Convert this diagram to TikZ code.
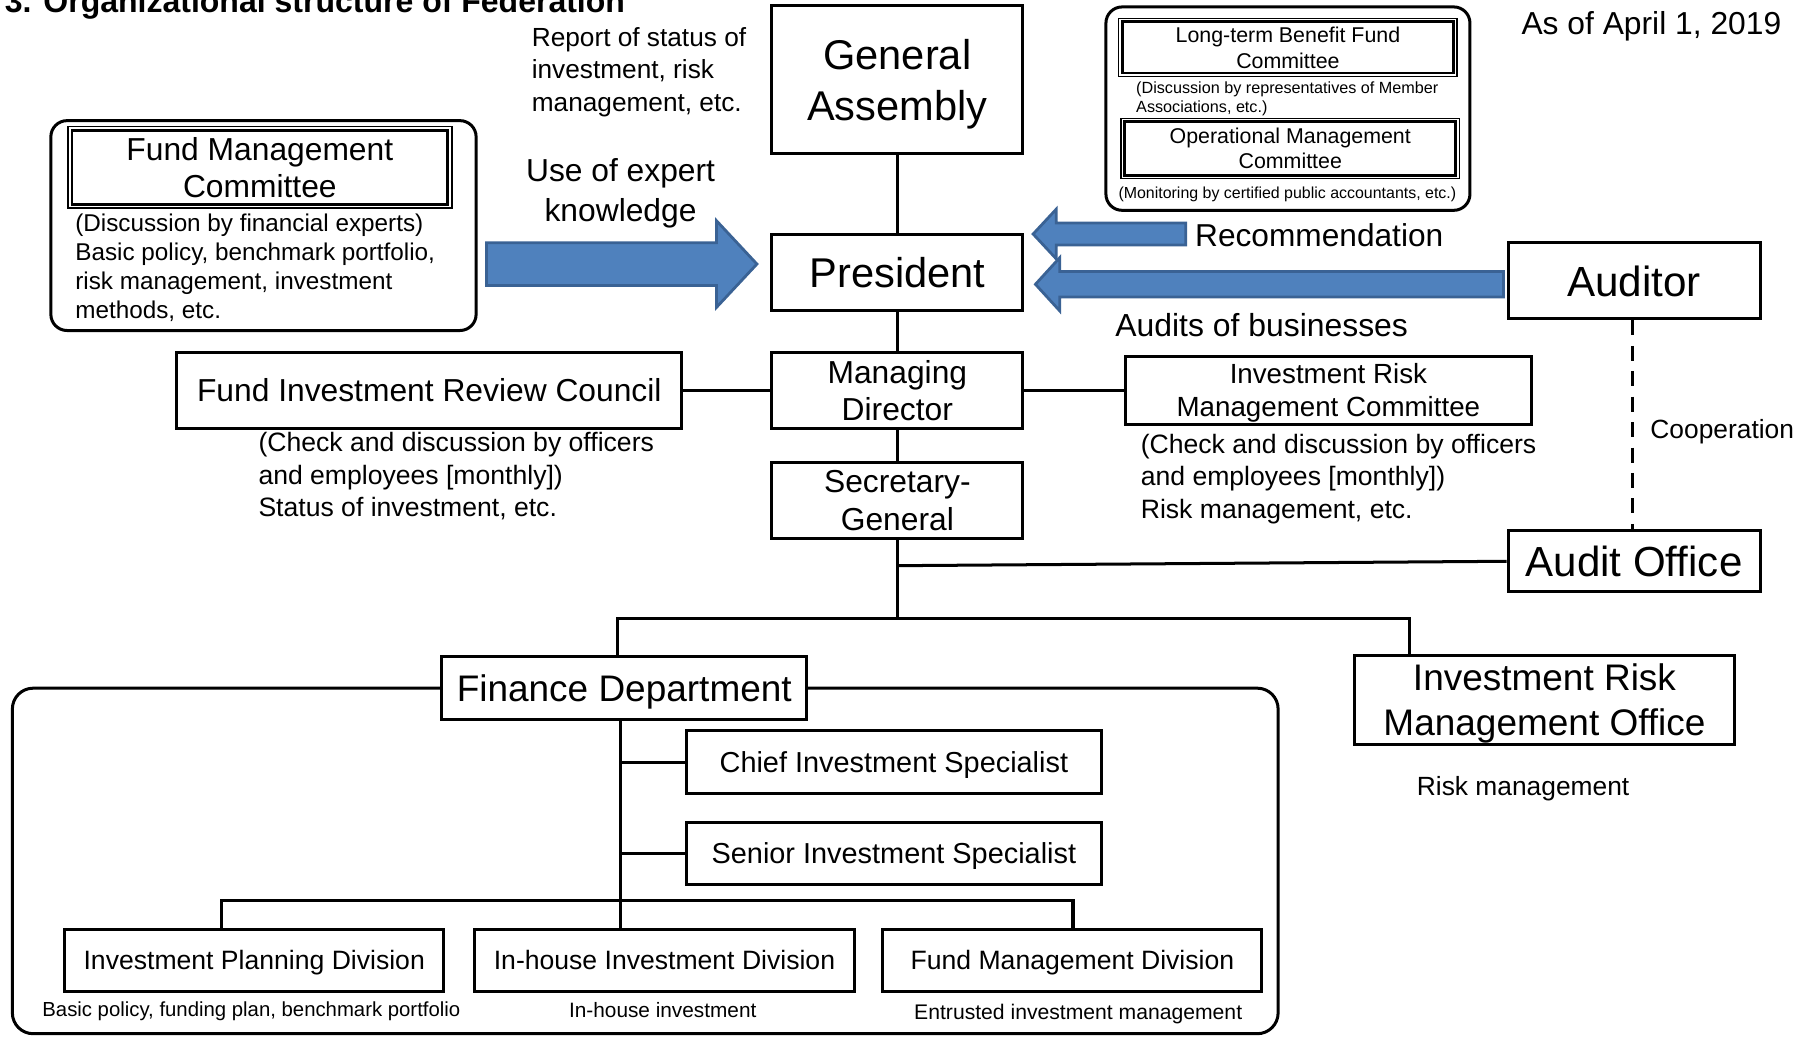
\documentclass[tikz,border=0pt]{standalone}
\usepackage{fontspec}
\setmainfont{Liberation Sans}
\usetikzlibrary{calc}
\definecolor{arrowblue}{HTML}{4F81BD}
\definecolor{arrowedge}{HTML}{3A6294}
\newcommand\fsz[2]{\fontsize{#1pt}{#2pt}\selectfont}
\begin{document}
\begin{tikzpicture}[x=1pt,y=-1pt,
  box/.style={draw, line width=2.6pt, fill=white, inner sep=0pt, align=center, text depth=0pt},
  dblbox/.style={draw, line width=1.3pt, fill=white, inner sep=0pt, align=center, text depth=0pt},
  conn/.style={line width=2.6pt},
  txt/.style={inner sep=0pt, align=left, text depth=0pt},
  ctxt/.style={inner sep=0pt, align=center, text depth=0pt},
  bluearrow/.style={fill=arrowblue, draw=arrowedge, line width=2.4pt, line join=miter},
  roundframe/.style={draw, line width=2.6pt, rounded corners=#1},
  roundframe/.default=14pt]
\fill[white] (0,0) rectangle (1568,897);
\useasboundingbox (0,0) rectangle (1568,897);

% title (cut off at top, as in the reference)
\node[inner sep=0pt, anchor=base west, font=\bfseries\fsz{27.7}{32}] (title) at (4,11) {3. Organizational structure of Federation};

% frames
\draw[roundframe=18pt] (10.7,595.5) rectangle (1106,894.5);
\draw[roundframe] (44,104.4) rectangle (412,286);
\draw[roundframe] (957,6) rectangle (1272,182);

% top texts
\node[txt, anchor=west, font=\fsz{22.7}{28}] (report) at (460,60) {Report of status of\\investment, risk\\management, etc.};
\node[ctxt, font=\fsz{27.5}{30}] (asof) at (1429,20) {As of April 1, 2019};
\node[ctxt, font=\fsz{27.5}{34}] (expert) at (537,164.5) {Use of expert\\knowledge};

% FMC
\node[dblbox, minimum width=332.3pt, minimum height=70.4pt, font=\fsz{27.5}{31.6}] (fmc) at (224.85,144.8) {Fund Management\\Committee};
\draw[line width=2.4pt] ($(fmc.north west)+(4.3,3.8)$) rectangle ($(fmc.south east)+(-4.3,-3.8)$);
\node[txt, anchor=west, font=\fsz{21}{25}] (fmctext) at (65,230.5) {(Discussion by financial experts)\\Basic policy, benchmark portfolio,\\risk management, investment\\methods, etc.};

% top-right committees
\node[dblbox, minimum width=293pt, minimum height=50pt, font=\fsz{18.5}{22.5}] (ltbf) at (1114.5,41) {Long-term Benefit Fund\\Committee};
\draw[line width=2.4pt] ($(ltbf.north west)+(4,3.5)$) rectangle ($(ltbf.south east)+(-4,-3.5)$);
\node[txt, anchor=west, font=\fsz{14}{16.4}] (ltbftext) at (983,84) {(Discussion by representatives of Member\\Associations, etc.)};
\node[dblbox, minimum width=293pt, minimum height=52pt, font=\fsz{18.5}{22}] (omc) at (1116.5,128.5) {Operational Management\\Committee};
\draw[line width=2.4pt] ($(omc.north west)+(4,3.5)$) rectangle ($(omc.south east)+(-4,-3.5)$);
\node[ctxt, font=\fsz{13.8}{16}] (omctext) at (1114,166.5) {(Monitoring by certified public accountants, etc.)};

% main column
\node[box, minimum width=217pt, minimum height=128pt, font=\fsz{36}{44}] (ga) at (776.5,69) {General\\Assembly};
\node[box, minimum width=217pt, minimum height=66pt, font=\fsz{36}{44}] (pres) at (776.5,236) {President};
\node[box, minimum width=217pt, minimum height=66pt, font=\fsz{27.5}{32}] (md) at (776.5,337.6) {Managing\\Director};
\node[box, minimum width=217pt, minimum height=66pt, font=\fsz{27.5}{33}] (sg) at (776.5,433) {Secretary-\\General};

\node[box, minimum width=437pt, minimum height=66pt, font=\fsz{27.5}{33}] (firc) at (371.5,337.6) {Fund Investment Review Council};
\node[txt, anchor=west, font=\fsz{23}{27.8}] (firctext) at (223.5,410.5) {(Check and discussion by officers\\and employees [monthly])\\Status of investment, etc.};

\node[box, minimum width=351pt, minimum height=59pt, font=\fsz{24}{29}] (irmc) at (1149.5,337.6) {Investment Risk\\Management Committee};
\node[txt, anchor=west, font=\fsz{23}{28}] (irmctext) at (987,412) {(Check and discussion by officers\\and employees [monthly])\\Risk management, etc.};

\node[box, minimum width=218pt, minimum height=66pt, font=\fsz{36.5}{44}] (auditor) at (1414,243) {Auditor};
\node[box, minimum width=218pt, minimum height=52.5pt, font=\fsz{36.4}{40}] (ao) at (1414,485.7) {Audit Office};
\node[txt, anchor=west, font=\fsz{22.8}{27}] (coop) at (1428,371.5) {Cooperation};

% blue arrows
\draw[bluearrow] (421,210) -- (620,210) -- (620,191) -- (655,228.5) -- (620,266) -- (620,247) -- (421,247) -- cycle;
\draw[bluearrow] (1026,193) -- (914,193) -- (914,181) -- (894,202.5) -- (914,224) -- (914,212) -- (1026,212) -- cycle;
\draw[bluearrow] (1301,235) -- (917,235) -- (917,223) -- (896,246) -- (917,269) -- (917,257) -- (1301,257) -- cycle;
\node[txt, anchor=west, font=\fsz{27.4}{33}] (recom) at (1034,203.5) {Recommendation};
\node[txt, anchor=west, font=\fsz{27.6}{33}] (audits) at (965,281) {Audits of businesses};

% lower part
\node[box, minimum width=315.5pt, minimum height=54.5pt, font=\fsz{32}{38}] (fd) at (540.2,595.7) {Finance Department};
\node[box, minimum width=329pt, minimum height=77pt, font=\fsz{32}{39}] (irmo) at (1336.5,605.5) {Investment Risk\\Management Office};
\node[ctxt, font=\fsz{22.8}{27}] (rm) at (1318,680.5) {Risk management};

\node[box, minimum width=359pt, minimum height=54pt, font=\fsz{25}{30}] (cis) at (773.5,659.5) {Chief Investment Specialist};
\node[box, minimum width=359pt, minimum height=53pt, font=\fsz{25}{30}] (sis) at (773.5,738.5) {Senior Investment Specialist};

\node[box, minimum width=328pt, minimum height=54pt, font=\fsz{23}{28}] (ipd) at (220,831) {Investment Planning Division};
\node[box, minimum width=328pt, minimum height=54pt, font=\fsz{23}{28}] (ihid) at (575,831) {In-house Investment Division};
\node[box, minimum width=328pt, minimum height=54pt, font=\fsz{23}{28}] (fmd) at (928,831) {Fund Management Division};
\node[ctxt, font=\fsz{17.6}{21}] (ipdtext) at (217.5,873.5) {Basic policy, funding plan, benchmark portfolio};
\node[ctxt, font=\fsz{18}{21}] (ihidtext) at (573.5,874) {In-house investment};
\node[ctxt, font=\fsz{18.3}{21}] (fmdtext) at (933,876) {Entrusted investment management};

% connectors
\draw[conn] (ga.south) -- (pres.north);
\draw[conn] (pres.south) -- (md.north);
\draw[conn] (md.south) -- (sg.north);
\draw[conn] (firc.east) -- (md.west);
\draw[conn] (md.east) -- (irmc.west);
\coordinate (j1) at (776.5,489.5);
\coordinate (j2) at (776.5,535);
\draw[conn] (sg.south) -- (j2);
\draw[conn] (j1) -- (ao.west);
\coordinate (bL) at (534,535);
\coordinate (bR) at (1220,535);
\draw[conn] (bL |- fd.north) -- (bL) -- (bR) -- (bR |- irmo.north);
\coordinate (dtop) at (1413,300);
\draw[line width=2.6pt, dash pattern=on 13pt off 9pt] (auditor.south -| dtop) -- (ao.north -| dtop);
\coordinate (vx) at (537,700);
\draw[conn] (fd.south -| vx) -- (ihid.north -| vx);
\draw[conn] (vx |- cis.west) -- (cis.west);
\draw[conn] (vx |- sis.west) -- (sis.west);
\coordinate (hl) at (191.5,779);
\coordinate (hr) at (928.5,779);
\draw[conn] (ipd.north -| hl) -- (hl) -- (hr) -- (fmd.north -| hr);
\end{tikzpicture}
\end{document}
